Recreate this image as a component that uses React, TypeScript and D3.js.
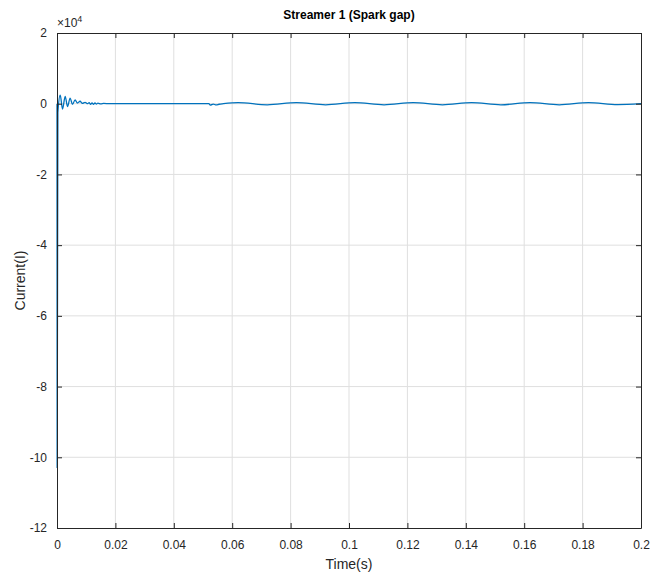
import React, { useEffect, useRef } from 'react';
import * as d3 from 'd3';

// Streamer 1 current trace (time in s, current in A)
const timeS = [
  0, 0.00005, 0.0003, 0.0011, 0.0019, 0.0028, 0.0036, 0.0045, 0.0053, 0.0062, 0.007, 0.0079,
  0.0087, 0.0096, 0.0105, 0.011, 0.0115, 0.012, 0.0125, 0.013, 0.0135, 0.014, 0.015, 0.016,
  0.018, 0.03, 0.045, 0.052, 0.0525, 0.0535, 0.0545, 0.0555, 0.057, 0.062, 0.072, 0.082, 0.092,
  0.102, 0.112, 0.122, 0.132, 0.142, 0.152, 0.162, 0.172, 0.182, 0.192, 0.2,
];
const currentA = [
  0, -103000, -2500, 2400, -1500, 2100, -800, 1600, -200, 1100, 200, 700,
  100, 400, 0, 300, -200, 250, -150, 200, -100, 150, -50, 80,
  0, 0, 0, 0, -400, -100, -350, -150, 0, 300, -300, 300, -300,
  300, -300, 300, -300, 300, -300, 300, -300, 300, -250, 0,
];

const xTicks = [0, 0.02, 0.04, 0.06, 0.08, 0.1, 0.12, 0.14, 0.16, 0.18, 0.2];
const yTicks = [2, 0, -2, -4, -6, -8, -10, -12]; // in units of 1e4

export default function App() {
  const svgRef = useRef<SVGSVGElement>(null);

  useEffect(() => {
    if (!svgRef.current) return;
    const width = 667;
    const height = 576;
    const margin = { top: 33, right: 26, bottom: 48, left: 57 };
    const innerW = width - margin.left - margin.right;
    const innerH = height - margin.top - margin.bottom;
    const font = '"Liberation Sans", Arial, sans-serif';
    const axisColor = '#262626';

    const svg = d3.select(svgRef.current).attr('width', width).attr('height', height);
    svg.selectAll('*').remove();

    svg.append('rect').attr('width', width).attr('height', height).attr('fill', '#fff');

    const g = svg.append('g').attr('transform', `translate(${margin.left},${margin.top})`);

    const x = d3.scaleLinear().domain([0, 0.2]).range([0, innerW]);
    const y = d3.scaleLinear().domain([-12, 2]).range([innerH, 0]);

    // grid
    g.append('g')
      .selectAll('line')
      .data(xTicks.slice(1, -1))
      .join('line')
      .attr('x1', d => x(d)).attr('x2', d => x(d))
      .attr('y1', 0).attr('y2', innerH)
      .attr('stroke', '#dfdfdf').attr('stroke-width', 1);
    g.append('g')
      .selectAll('line')
      .data(yTicks.slice(1, -1))
      .join('line')
      .attr('y1', d => y(d)).attr('y2', d => y(d))
      .attr('x1', 0).attr('x2', innerW)
      .attr('stroke', '#dfdfdf').attr('stroke-width', 1);

    // trace
    const pts = timeS.map((t, i) => [t, currentA[i] / 1e4] as [number, number]);
    const line = d3.line<[number, number]>()
      .x(d => x(d[0]))
      .y(d => y(d[1]))
      .curve(d3.curveMonotoneX);
    g.append('path')
      .datum(pts)
      .attr('d', line)
      .attr('fill', 'none')
      .attr('stroke', '#0072BD')
      .attr('stroke-width', 1.3);

    // axes with inward ticks on all four sides
    const styleAxis = (sel: d3.Selection<SVGGElement, unknown, null, undefined>) => {
      sel.select('.domain').attr('stroke', axisColor);
      sel.selectAll('.tick line').attr('stroke', axisColor);
      sel.selectAll('text')
        .attr('fill', axisColor)
        .style('font-family', font)
        .style('font-size', '12px');
    };

    const xFmt = (d: d3.NumberValue) => String(+d);
    g.append('g')
      .attr('transform', `translate(0,${innerH})`)
      .call(d3.axisBottom(x).tickValues(xTicks).tickSizeInner(-5).tickSizeOuter(0).tickPadding(12).tickFormat(xFmt))
      .call(styleAxis);
    g.append('g')
      .call(d3.axisTop(x).tickValues(xTicks).tickSizeInner(-5).tickSizeOuter(0).tickFormat(() => ''))
      .call(styleAxis);
    g.append('g')
      .call(d3.axisLeft(y).tickValues(yTicks).tickSizeInner(-5).tickSizeOuter(0).tickPadding(10).tickFormat(d => String(+d)))
      .call(styleAxis);
    g.append('g')
      .attr('transform', `translate(${innerW},0)`)
      .call(d3.axisRight(y).tickValues(yTicks).tickSizeInner(-5).tickSizeOuter(0).tickFormat(() => ''))
      .call(styleAxis);

    // exponent label
    const exp = svg.append('text')
      .attr('x', margin.left)
      .attr('y', 27)
      .attr('fill', axisColor)
      .style('font-family', font)
      .style('font-size', '12px');
    exp.append('tspan').text('×10');
    exp.append('tspan').attr('dy', -5).style('font-size', '9px').text('4');

    // title
    svg.append('text')
      .attr('x', margin.left + innerW / 2)
      .attr('y', 19)
      .attr('text-anchor', 'middle')
      .attr('fill', '#000')
      .style('font-family', font)
      .style('font-size', '12px')
      .style('font-weight', 'bold')
      .text('Streamer 1 (Spark gap)');

    // axis labels
    svg.append('text')
      .attr('x', margin.left + innerW / 2)
      .attr('y', 569)
      .attr('text-anchor', 'middle')
      .attr('fill', axisColor)
      .style('font-family', font)
      .style('font-size', '14px')
      .text('Time(s)');
    svg.append('text')
      .attr('transform', `translate(25,${margin.top + innerH / 2}) rotate(-90)`)
      .attr('text-anchor', 'middle')
      .attr('fill', axisColor)
      .style('font-family', font)
      .style('font-size', '14px')
      .text('Current(I)');
  }, []);

  return (
    <div style={{ position: 'absolute', top: 0, left: 0 }}>
      <svg ref={svgRef} style={{ display: 'block' }} />
    </div>
  );
}
